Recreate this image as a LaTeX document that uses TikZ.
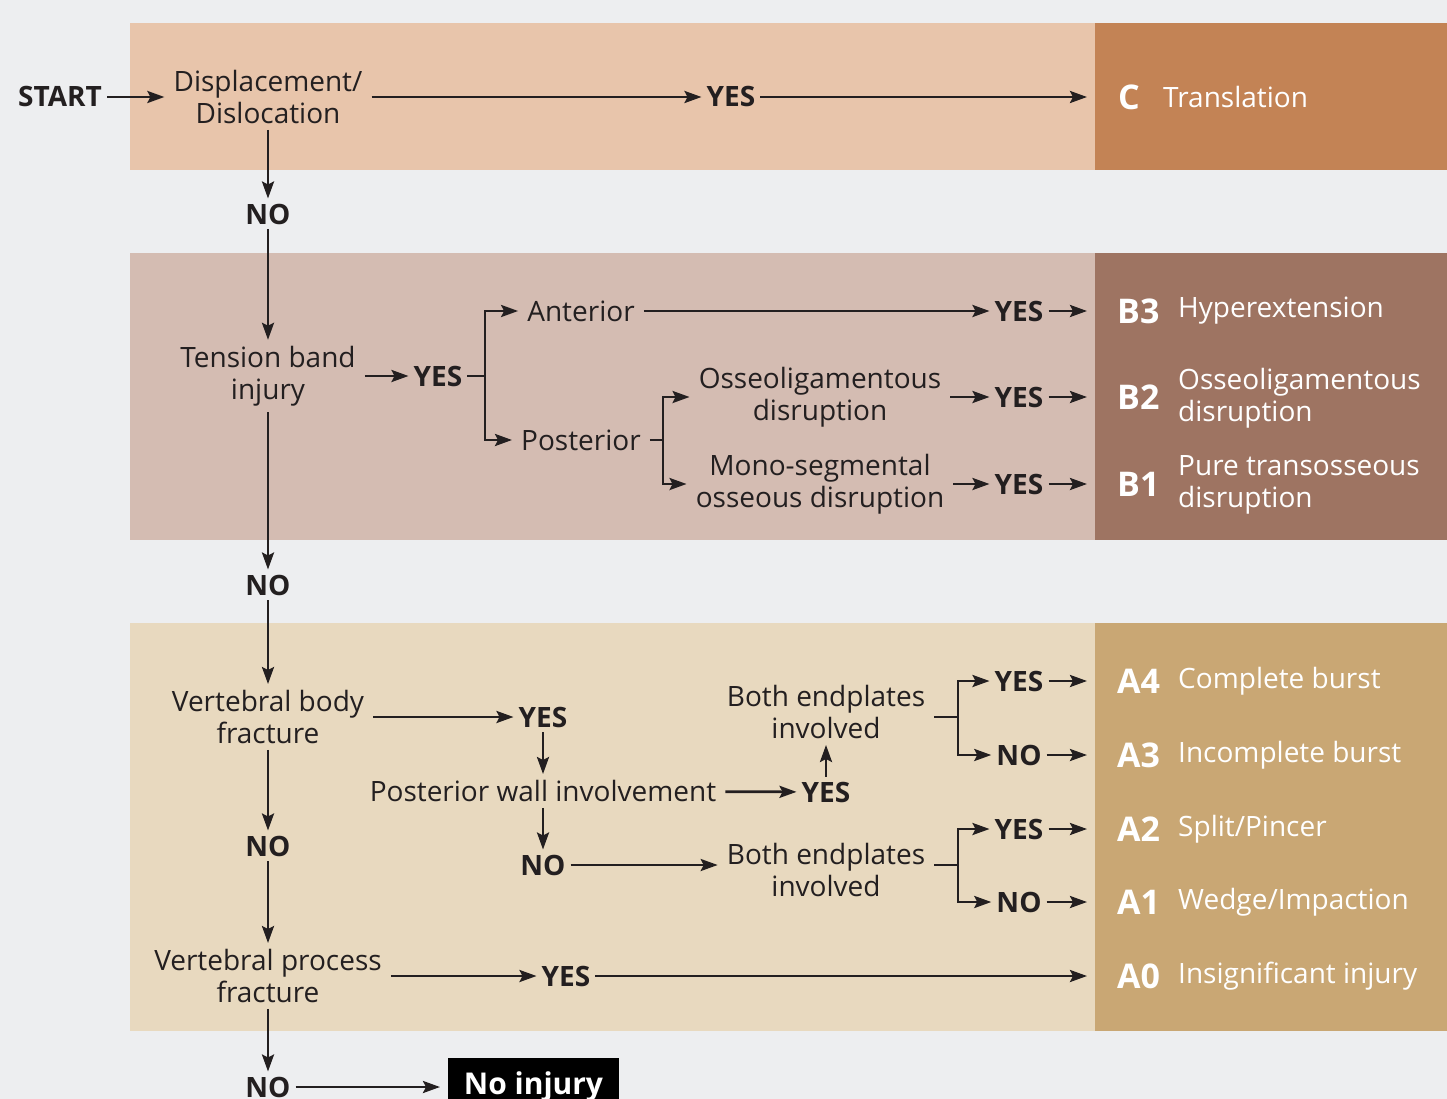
\documentclass[tikz,border=0pt]{standalone}
\usepackage{fontspec}
\setmainfont{Open Sans}
\usetikzlibrary{arrows.meta}

\definecolor{bggray}{HTML}{EDEEF0}
\definecolor{ink}{HTML}{231F20}
\definecolor{cLight}{HTML}{E8C5AB}
\definecolor{cDark}{HTML}{C38355}
\definecolor{bLight}{HTML}{D4BCB2}
\definecolor{bDark}{HTML}{9E7462}
\definecolor{aLight}{HTML}{E8D9BF}
\definecolor{aDark}{HTML}{C9A774}

\begin{document}
\begin{tikzpicture}[x=1pt,y=-1pt,
    txt/.style={align=center,text=ink,inner xsep=9pt,inner ysep=6pt,
      font=\fontsize{28}{32}\selectfont},
    ans/.style={text=ink,inner sep=5pt,
      font=\fontsize{28}{32}\selectfont\bfseries},
    code/.style={text=white,anchor=west,inner sep=0pt,
      font=\fontsize{34}{32}\selectfont\bfseries},
    res/.style={text=white,anchor=west,align=left,inner sep=0pt,
      font=\fontsize{28}{32}\selectfont},
    arr/.style={draw=ink,line width=2.7pt,
      -{Stealth[length=17pt,width=12pt,inset=3pt]}},
    ln/.style={draw=ink,line width=2.7pt}]
          \clip (0,0) rectangle (1447,1099);
          \fill[bggray] (0,0) rectangle (1447,1099);
          %\draw[very thin,lightgray] (0,0) grid[step=50] (1447,1099);
          % bands
          \fill[cLight] (130,23) rectangle (1095,170);
          \fill[cDark] (1095,23) rectangle (1447,170);
          \fill[bLight] (130,253) rectangle (1095,540);
          \fill[bDark] (1095,253) rectangle (1447,540);
          \fill[aLight] (130,623) rectangle (1095,1031);
          \fill[aDark] (1095,623) rectangle (1447,1031);

          % C
          \node[ans] (start) at (60,97) {START};
          \node[txt] (disp) at (268,97) {Displacement/\\Dislocation};
          \node[ans] (yesC) at (731,97) {YES};
          \coordinate (edgeC) at (1087,97);
          \node[code] (C) at (1118,97) {C};
          \node[res] at (1163,97) {Translation};
          \draw[arr] (start) -- (disp);
          \draw[arr] (disp) -- (yesC);
          \draw[arr] (yesC) -- (edgeC);

          % B
          \node[ans] (noC) at (268,214) {NO};
          \node[txt] (tens) at (268,376) {Tension band\\injury};
          \node[ans] (yesT) at (438,376) {YES};
          \coordinate (brT) at (485,376);
          \node[txt] (ant) at (581,311) {Anterior};
          \node[txt] (post) at (581,440) {Posterior};
          \coordinate (brP) at (663,440);
          \node[txt] (osl) at (820,397) {Osseoligamentous\\disruption};
          \node[txt] (mono) at (820,484) {Mono-segmental\\osseous disruption};
          \foreach \nm/\yy in {B3/311,B2/397,B1/484}{
            \node[ans] (yes\nm) at (1019,\yy) {YES};
            \coordinate (edge\nm) at (1087,\yy);
            \node[code] (\nm) at (1117,\yy) {\nm};
            \draw[arr] (yes\nm) -- (edge\nm);
          }
          \node[res] at (1178,311) {Hyperextension};
          \node[res] at (1178,398) {Osseoligamentous\\disruption};
          \node[res] at (1178,485) {Pure transosseous\\disruption};
          \draw[arr] (disp) -- (noC);
          \draw[arr] (noC) -- (tens);
          \draw[arr] (tens) -- (yesT);
          \draw[ln] (yesT) -- (brT);
          \draw[arr] (brT) |- (ant);
          \draw[arr] (brT) |- (post);
          \draw[arr] (ant) -- (yesB3);
          \draw[ln] (post) -- (brP);
          \draw[arr] (brP) |- (osl);
          \draw[arr] (brP) |- (mono);
          \draw[arr] (osl) -- (yesB2);
          \draw[arr] (mono) -- (yesB1);

          % A
          \node[ans] (noT) at (268,585) {NO};
          \node[txt] (vbf) at (268,717) {Vertebral body\\fracture};
          \node[ans] (yesV) at (543,717) {YES};
          \node[txt] (pwi) at (543,791) {Posterior wall involvement};
          \node[ans] (yesP) at (826,792) {YES};
          \node[txt] (both1) at (826,712) {Both endplates\\involved};
          \coordinate (brA1) at (958,717);
          \node[ans] (noP) at (543,865) {NO};
          \node[txt] (both2) at (826,870) {Both endplates\\involved};
          \coordinate (brA2) at (958,865);
          \node[ans] (noV) at (268,846) {NO};
          \node[txt] (vpf) at (268,976) {Vertebral process\\fracture};
          \node[ans] (yesA0) at (566,976) {YES};
          \coordinate (edgeA0) at (1087,976);
          \node[code] (A0) at (1117,976) {A0};
          \node[res] at (1178,976) {Insignificant injury};
          \foreach \nm/\ans/\yy/\txt in {A4/YES/681/Complete burst,
              A3/NO/755/Incomplete burst,A2/YES/829/Split\slash Pincer,
              A1/NO/902/Wedge\slash Impaction}{
            \node[ans] (ans\nm) at (1019,\yy) {\ans};
            \coordinate (edge\nm) at (1087,\yy);
            \node[code] (\nm) at (1117,\yy) {\nm};
            \node[res] at (1178,\yy) {\txt};
            \draw[arr] (ans\nm) -- (edge\nm);
          }
          \draw[arr] (tens) -- (noT);
          \draw[arr] (noT) -- (vbf);
          \draw[arr] (vbf) -- (yesV);
          \draw[arr] (yesV) -- (pwi);
          \draw[arr] (pwi) -- (yesP);
          \draw[arr] (yesP) -- (both1);
          \draw[ln] (both1.east |- brA1) -- (brA1);
          \draw[arr] (brA1) |- (ansA4);
          \draw[arr] (brA1) |- (ansA3);
          \draw[arr] (pwi) -- (noP);
          \draw[arr] (noP) -- (noP -| both2.west);
          \draw[ln] (both2.east |- brA2) -- (brA2);
          \draw[arr] (brA2) |- (ansA2);
          \draw[arr] (brA2) |- (ansA1);
          \draw[arr] (vbf) -- (noV);
          \draw[arr] (noV) -- (vpf);
          \draw[arr] (vpf) -- (yesA0);
          \draw[arr] (yesA0) -- (edgeA0);

          % no injury
          \node[ans] (noF) at (268,1087) {NO};
          \node[fill=black,text=white,minimum width=171pt,minimum height=58pt,
            outer xsep=8pt,font=\fontsize{30}{32}\selectfont\bfseries]
            (noinj) at (533.5,1087) {No injury};
          \draw[arr] (vpf) -- (noF);
          \draw[arr] (noF) -- (noinj);
\end{tikzpicture}
\end{document}
